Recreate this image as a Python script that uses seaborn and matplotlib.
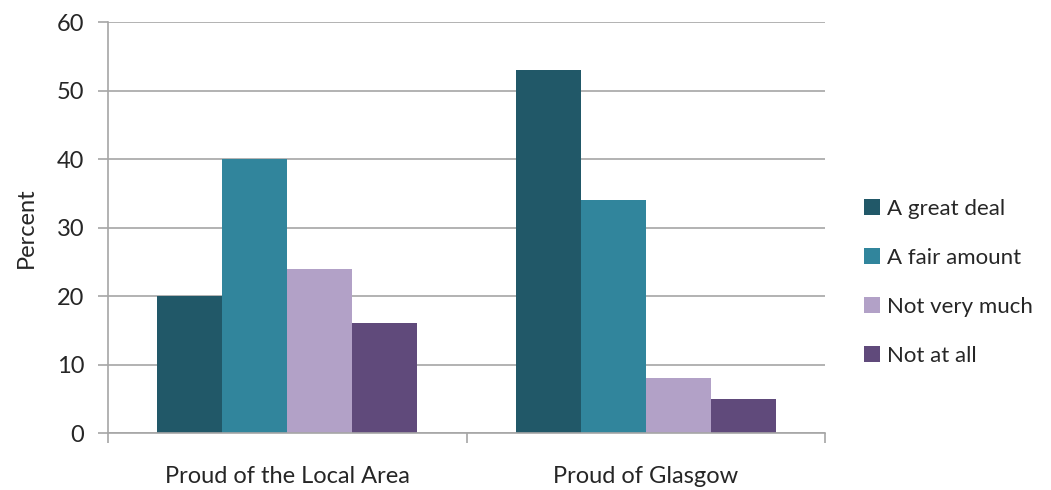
import pandas as pd
import seaborn as sns
import matplotlib.pyplot as plt
from matplotlib.ticker import FixedLocator

# Data
categories = ['Proud of the Local Area', 'Proud of Glasgow']
responses = ['A great deal', 'A fair amount', 'Not very much', 'Not at all']
great_deal = [20, 53]
fair_amount = [40, 34]
not_very_much = [24, 8]
not_at_all = [16, 5]
y_ticks = [0, 10, 20, 30, 40, 50, 60]

colors = ['#215868', '#31859C', '#B2A1C7', '#604A7B']

# Long-form table for seaborn
rows = []
for resp, vals in zip(responses, [great_deal, fair_amount, not_very_much, not_at_all]):
    for cat, v in zip(categories, vals):
        rows.append({'cat': cat, 'resp': resp, 'value': v})
df = pd.DataFrame(rows)

sns.set_theme(style='white')
plt.rcParams['font.family'] = ['Lato', 'DejaVu Sans']

fig = plt.figure(figsize=(10.51, 4.9), dpi=100)
ax = fig.add_axes([0.1028, 0.1163, 0.6822, 0.8387])

sns.barplot(data=df, x='cat', y='value', hue='resp',
            order=categories, hue_order=responses,
            palette=colors, saturation=1.0, width=0.725,
            edgecolor='none', linewidth=0, legend=True, ax=ax)

# Axis styling
ax.set_ylim(0, 60)
ax.set_xlim(-0.5, 1.5)
ax.set_yticks(y_ticks)
ax.yaxis.grid(True, color='#a6a6a6', linewidth=1.2)
ax.set_axisbelow(True)
for side in ['top', 'right']:
    ax.spines[side].set_visible(False)
for side in ['left', 'bottom']:
    ax.spines[side].set_color('#a6a6a6')
    ax.spines[side].set_linewidth(1.2)

fs = 17
ax.tick_params(axis='y', which='major', left=True, length=7, width=1.2,
               color='#a6a6a6', labelsize=fs, labelcolor='#262626', pad=10)
ax.tick_params(axis='x', which='major', length=0, labelsize=fs,
               labelcolor='#262626', pad=24)
ax.xaxis.set_minor_locator(FixedLocator([-0.5, 0.5, 1.5]))
ax.tick_params(axis='x', which='minor', bottom=True, length=7, width=1.2,
               color='#a6a6a6')

ax.set_xlabel('')
ax.set_ylabel('Percent', fontsize=fs, color='#262626', labelpad=14)

# Legend on the right
handles, labels = ax.get_legend_handles_labels()
ax.legend_.remove()
fig.legend(handles, labels, loc='center left', bbox_to_anchor=(0.803, 0.424),
           frameon=False, fontsize=16, handlelength=0.7, handleheight=0.7,
           handletextpad=0.35, labelspacing=1.3, labelcolor='#262626')

fig.savefig('out.png', dpi=100)
